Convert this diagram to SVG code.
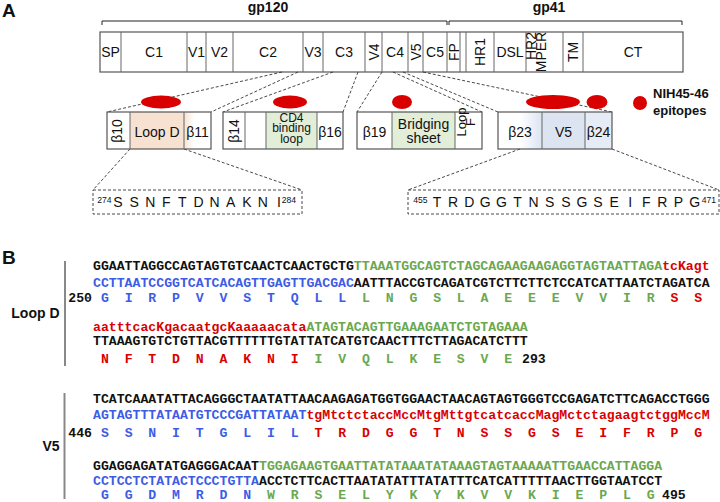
<svg xmlns="http://www.w3.org/2000/svg" width="720" height="502" viewBox="0 0 720 502">
<defs>
<style>
.sans{font-family:"Liberation Sans",Arial,sans-serif;fill:#111}
.b{font-weight:bold}
.f14{font-size:14px}
.f13{font-size:13px}
.f12{font-size:12px}
.mono{font-family:"Liberation Mono","Courier New",monospace;font-weight:bold;font-size:13.18px;fill:#111}
.bl{fill:#3d5ce6}
.gr{fill:#6aa84f}
.rd{fill:#d90000}
.bar{fill:#fff;stroke:#555;stroke-width:1.2}
.div{stroke:#666;stroke-width:1}
.dash{fill:none;stroke:#333;stroke-width:0.9;stroke-dasharray:3 2}
.epi{fill:#d90000}
.vl{stroke:#888;stroke-width:2}
</style>
<linearGradient id="peach" x1="0" x2="1" y1="0" y2="0"><stop offset="0" stop-color="#f7e2d2"/><stop offset="1" stop-color="#f7e2d2" stop-opacity="0"/></linearGradient>
<linearGradient id="blue" x1="0" x2="1" y1="0" y2="0"><stop offset="0" stop-color="#dce4f2" stop-opacity="0"/><stop offset="1" stop-color="#dce4f2"/></linearGradient>
</defs>

<text class="sans b" x="2" y="17" font-size="19">A</text>
<text class="sans b" x="2" y="264" font-size="19">B</text>

<!-- brackets -->
<g id="gp120">
<path d="M102,25 V21 H447 V25" fill="none" stroke="#222" stroke-width="1"/>
<text class="sans b f14" x="268" y="12" text-anchor="middle">gp120</text>
</g>
<g id="gp41">
<path d="M449,25 V21 H682 V25" fill="none" stroke="#222" stroke-width="1"/>
<text class="sans b f14" x="549" y="12" text-anchor="middle">gp41</text>
</g>

<!-- top bar -->
<g id="envbar">
<rect class="bar" x="100" y="32" width="583" height="40"/>
<g class="div">
<line x1="121" y1="32" x2="121" y2="72"/><line x1="187" y1="32" x2="187" y2="72"/>
<line x1="206" y1="32" x2="206" y2="72"/><line x1="233" y1="32" x2="233" y2="72"/>
<line x1="303" y1="32" x2="303" y2="72"/><line x1="323" y1="32" x2="323" y2="72"/>
<line x1="365" y1="32" x2="365" y2="72"/><line x1="382" y1="32" x2="382" y2="72"/>
<line x1="408" y1="32" x2="408" y2="72"/><line x1="423" y1="32" x2="423" y2="72"/>
<line x1="447" y1="32" x2="447" y2="72"/><line x1="460" y1="32" x2="460" y2="72"/>
<line x1="466" y1="32" x2="466" y2="72"/><line x1="494" y1="32" x2="494" y2="72"/>
<line x1="526" y1="32" x2="526" y2="72"/><line x1="563" y1="32" x2="563" y2="72"/>
<line x1="583" y1="32" x2="583" y2="72"/>
</g>
<g class="sans f14" text-anchor="middle">
<text x="110.5" y="57">SP</text>
<text x="154" y="57">C1</text>
<text x="196.5" y="57">V1</text>
<text x="219.5" y="57">V2</text>
<text x="268" y="57">C2</text>
<text x="313" y="57">V3</text>
<text x="344" y="57">C3</text>
<text x="395" y="57">C4</text>
<text x="435" y="57">C5</text>
<text x="510" y="57">DSL</text>
<text x="633" y="57">CT</text>
<g dominant-baseline="central">
<text transform="translate(373.5,52) rotate(-90)">V4</text>
<text transform="translate(415.5,52) rotate(-90)">V5</text>
<text transform="translate(453.5,52) rotate(-90)">FP</text>
<text transform="translate(480,52) rotate(-90)">HR1</text>
<text transform="translate(531,46) rotate(-90)">HR2</text>
<text transform="translate(541,52) rotate(-90)">MPER</text>
<text transform="translate(573,52) rotate(-90)">TM</text>
</g>
</g>
</g>

<!-- connectors -->
<g id="connectors" class="dash">
<line x1="282" y1="72" x2="107" y2="112"/>
<line x1="298" y1="72" x2="211" y2="112"/>
<line x1="333" y1="72" x2="223" y2="112"/>
<line x1="358" y1="72" x2="343" y2="112"/>
<line x1="382" y1="72" x2="357" y2="112"/>
<line x1="393" y1="72" x2="482" y2="112"/>
<line x1="403" y1="72" x2="498" y2="112"/>
<line x1="423" y1="72" x2="612" y2="112"/>
<line x1="130" y1="149" x2="93" y2="190"/>
<line x1="184" y1="149" x2="302" y2="190"/>
<line x1="520" y1="149" x2="408" y2="190"/>
<line x1="612" y1="149" x2="719" y2="190"/>
</g>

<!-- epitopes -->
<g id="epitopes">
<ellipse class="epi" cx="161" cy="102" rx="20" ry="6.5"/>
<ellipse class="epi" cx="290" cy="102" rx="17" ry="6.5"/>
<ellipse class="epi" cx="402" cy="102" rx="10" ry="7"/>
<ellipse class="epi" cx="553" cy="102" rx="27" ry="7"/>
<ellipse class="epi" cx="597" cy="102" rx="10.5" ry="7"/>
</g>
<g id="legend">
<circle class="epi" cx="640" cy="103" r="7"/>
<text class="sans b f13" x="653" y="98">NIH45-46</text>
<text class="sans b f13" x="653" y="115">epitopes</text>
</g>

<!-- middle boxes -->
<g id="box-loopD">
<rect x="130" y="112" width="54" height="37" fill="#f7e2d2"/>
<rect x="184" y="112" width="10" height="37" fill="url(#peach)"/>
<rect x="107" y="112" width="104" height="37" fill="none" stroke="#555" stroke-width="1.2"/>
<line class="div" x1="130" y1="112" x2="130" y2="149"/>
<line class="div" x1="184" y1="112" x2="184" y2="149"/>
<text class="sans f14" transform="translate(116.5,131) rotate(-90)" text-anchor="middle" dominant-baseline="central">β10</text>
<text class="sans f14" x="157" y="137" text-anchor="middle">Loop D</text>
<text class="sans f14" x="197.5" y="137" text-anchor="middle">β11</text>
</g>
<g id="box-cd4">
<rect x="266" y="112" width="51" height="37" fill="#e2eed8"/>
<rect x="223" y="112" width="120" height="37" fill="none" stroke="#555" stroke-width="1.2"/>
<line class="div" x1="245" y1="112" x2="245" y2="149"/>
<line class="div" x1="266" y1="112" x2="266" y2="149"/>
<line class="div" x1="317" y1="112" x2="317" y2="149"/>
<text class="sans f14" transform="translate(233.5,131) rotate(-90)" text-anchor="middle" dominant-baseline="central">β14</text>
<text class="sans f12" text-anchor="middle"><tspan x="291.5" y="121.5">CD4</tspan><tspan x="291.5" y="132">binding</tspan><tspan x="291.5" y="142.5">loop</tspan></text>
<text class="sans f14" x="330" y="137" text-anchor="middle">β16</text>
</g>
<g id="box-bridging">
<rect x="392" y="112" width="63" height="37" fill="#e2eed8"/>
<rect x="357" y="112" width="125" height="37" fill="none" stroke="#555" stroke-width="1.2"/>
<line class="div" x1="392" y1="112" x2="392" y2="149"/>
<line class="div" x1="455" y1="112" x2="455" y2="149"/>
<text class="sans f14" x="374.5" y="137" text-anchor="middle">β19</text>
<text class="sans f14" text-anchor="middle"><tspan x="423.5" y="129">Bridging</tspan><tspan x="423.5" y="143">sheet</tspan></text>
<text class="sans f13" transform="translate(461,122) rotate(-90)" text-anchor="middle" dominant-baseline="central">Loop</text>
<text class="sans f13" transform="translate(470.5,122) rotate(-90)" text-anchor="middle" dominant-baseline="central">F</text>
</g>
<g id="box-v5">
<rect x="520" y="112" width="22" height="37" fill="url(#blue)"/>
<rect x="542" y="112" width="43" height="37" fill="#dce4f2"/>
<rect x="585" y="112" width="27" height="37" fill="#e6ecf6"/>
<rect x="498" y="112" width="114" height="37" fill="none" stroke="#555" stroke-width="1.2"/>
<line class="div" x1="542" y1="112" x2="542" y2="149"/>
<line class="div" x1="585" y1="112" x2="585" y2="149"/>
<text class="sans f14" x="520" y="137" text-anchor="middle">β23</text>
<text class="sans f14" x="563.5" y="137" text-anchor="middle">V5</text>
<text class="sans f14" x="598.5" y="137" text-anchor="middle">β24</text>
</g>

<!-- epitope sequence boxes -->
<g id="seq-loopD">
<rect class="dash" x="93" y="190" width="209" height="24"/>
<text class="sans" x="97.3" y="203" font-size="8.6">274</text>
<text class="sans f14" y="207" text-anchor="middle" x="118 134.1 150.2 166.3 182.4 198.5 214.6 230.7 246.8 262.9 279">SSNFTDNAKNI</text>
<text class="sans" x="281.7" y="203" font-size="8.6">284</text>
</g>
<g id="seq-v5">
<rect class="dash" x="408" y="190" width="311" height="24"/>
<text class="sans" x="413.3" y="203" font-size="8.6">455</text>
<text class="sans f14" y="207" text-anchor="middle" x="437 453.1 469.2 485.3 501.4 517.5 533.6 549.7 565.8 581.9 598 614.1 630.2 646.3 662.4 678.5 694.6">TRDGGTNSSGSEIFRPG</text>
<text class="sans" x="701.7" y="203" font-size="8.6">471</text>
</g>

<!-- Panel B: Loop D -->
<g id="loopD-align">
<line class="vl" x1="65" y1="261" x2="65" y2="366"/>
<text class="sans b f14" x="59.5" y="318" text-anchor="end">Loop D</text>
<text class="mono" x="93" y="270">GGAATTAGGCCAGTAGTGTCAACTCAACTGCTG<tspan class="gr">TTAAATGGCAGTCTAGCAGAAGAAGAGGTAGTAATTAGA</tspan><tspan class="rd">tcKagt</tspan></text>
<text class="mono" x="93" y="286.5"><tspan class="bl">CCTTAATCCGGTCATCACAGTTGAGTTGACGAC</tspan>AATTTACCGTCAGATCGTCTTCTTCTCCATCATTAATCTAGATCA</text>
<text class="mono" x="92" y="302" text-anchor="end" font-size="12">250</text>
<text class="mono" y="302"><tspan class="bl" x="100.91 124.64 148.37 172.10 195.83 219.56 243.29 267.02 290.75 314.48 338.21">GIRPVVSTQLL</tspan><tspan class="gr" x="361.94 385.67 409.40 433.13 456.86 480.59 504.32 528.05 551.78 575.51 599.24 622.97 646.70">LNGSLAEEEVVIR</tspan><tspan class="rd" x="670.43 694.16">SS</tspan></text>
<text class="mono" x="93" y="331"><tspan class="rd">aatttcacKgacaatgcKaaaaacata</tspan><tspan class="gr">ATAGTACAGTTGAAAGAATCTGTAGAAA</tspan></text>
<text class="mono" x="93" y="344.5">TTAAAGTGTCTGTTACGTTTTTTGTATTATCATGTCAACTTTCTTAGACATCTTT</text>
<text class="mono" y="363"><tspan class="rd" x="100.91 124.64 148.37 172.10 195.83 219.56 243.29 267.02 290.75">NFTDNAKNI</tspan><tspan class="gr" x="314.48 338.21 361.94 385.67 409.40 433.13 456.86 480.59 504.32">IVQLKESVE</tspan></text>
<text class="mono" x="522" y="363" font-size="12">293</text>
</g>

<!-- Panel B: V5 -->
<g id="v5-align">
<line class="vl" x1="64.5" y1="393" x2="64.5" y2="499"/>
<text class="sans b f14" x="59.5" y="451" text-anchor="end">V5</text>
<text class="mono" x="93" y="403">TCATCAAATATTACAGGGCTAATATTAACAAGAGATGGTGGAACTAACAGTAGTGGGTCCGAGATCTTCAGACCTGGG</text>
<text class="mono" x="93" y="419"><tspan class="bl">AGTAGTTTATAATGTCCCGATTATAAT</tspan><tspan class="rd">tgMtctctaccMccMtgMttgtcatcaccMagMctctagaagtctggMccM</tspan></text>
<text class="mono" x="92" y="436.5" text-anchor="end" font-size="12">446</text>
<text class="mono" y="436.5"><tspan class="bl" x="100.91 124.64 148.37 172.10 195.83 219.56 243.29 267.02 290.75">SSNITGLIL</tspan><tspan class="rd" x="314.48 338.21 361.94 385.67 409.40 433.13 456.86 480.59 504.32 528.05 551.78 575.51 599.24 622.97 646.70 670.43 694.16">TRDGGTNSSGSEIFRPG</tspan></text>
<text class="mono" x="93" y="470">GGAGGAGATATGAGGGACAAT<tspan class="gr">TGGAGAAGTGAATTATATAAATATAAAGTAGTAAAAATTGAACCATTAGGA</tspan></text>
<text class="mono" x="93" y="484.5"><tspan class="bl">CCTCCTCTATACTCCCTGTTA</tspan>ACCTCTTCACTTAATATATTTATATTTCATCATTTTTAACTTGGTAATCCT</text>
<text class="mono" y="499"><tspan class="bl" x="100.91 124.64 148.37 172.10 195.83 219.56 243.29">GGDMRDN</tspan><tspan class="gr" x="267.02 290.75 314.48 338.21 361.94 385.67 409.40 433.13 456.86 480.59 504.32 528.05 551.78 575.51 599.24 622.97 646.70">WRSELYKYKVVKIEPLG</tspan></text>
<text class="mono" x="662" y="499" font-size="12">495</text>
</g>
</svg>
